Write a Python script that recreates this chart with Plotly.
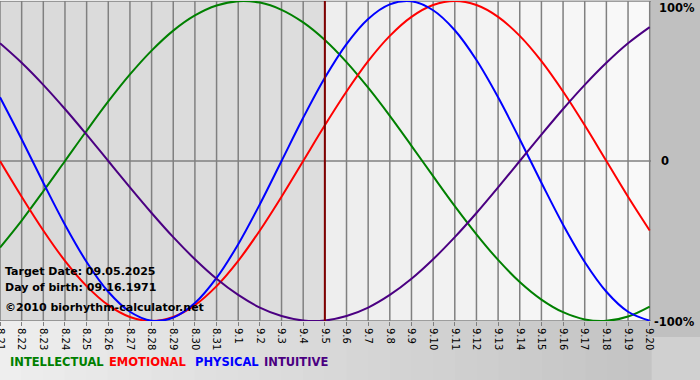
import plotly.graph_objects as go

dates = ["8.21", "8.22", "8.23", "8.24", "8.25", "8.26", "8.27", "8.28", "8.29", "8.30", "8.31",
         "9.1", "9.2", "9.3", "9.4", "9.5", "9.6", "9.7", "9.8", "9.9", "9.10", "9.11",
         "9.12", "9.13", "9.14", "9.15", "9.16", "9.17", "9.18", "9.19", "9.20"]

intellectual = [-0.541, -0.372, -0.189, 0.0, 0.189, 0.372, 0.541, 0.690, 0.815, 0.910, 0.972,
                0.999, 0.990, 0.945, 0.866, 0.756, 0.618, 0.458, 0.282, 0.095, -0.095,
                -0.282, -0.458, -0.618, -0.756, -0.866, -0.945, -0.990, -0.999, -0.972, -0.910]
emotional = [0.0, -0.223, -0.434, -0.624, -0.782, -0.901, -0.975, -1.0, -0.975, -0.901, -0.782,
             -0.624, -0.434, -0.223, 0.0, 0.223, 0.434, 0.624, 0.782, 0.901, 0.975,
             1.0, 0.975, 0.901, 0.782, 0.624, 0.434, 0.223, 0.0, -0.223, -0.434]
physical = [0.398, 0.136, -0.136, -0.398, -0.631, -0.817, -0.942, -0.998, -0.979, -0.888, -0.731,
            -0.520, -0.270, 0.0, 0.270, 0.520, 0.731, 0.888, 0.979, 0.998, 0.942,
            0.817, 0.631, 0.398, 0.136, -0.136, -0.398, -0.631, -0.817, -0.942, -0.998]
intuitive = [0.736, 0.614, 0.476, 0.325, 0.165, 0.0, -0.165, -0.325, -0.476, -0.614, -0.736,
             -0.837, -0.916, -0.969, -0.997, -0.997, -0.969, -0.916, -0.837, -0.736, -0.614,
             -0.476, -0.325, -0.165, 0.0, 0.165, 0.325, 0.476, 0.614, 0.736, 0.837]

target_index = 15
target_text = "Target Date: 09.05.2025"
birth_text = "Day of birth: 09.16.1971"
copyright_text = "©2010 biorhythm-calculator.net"
y_labels = ["100%", "0", "-100%"]

series = [
    ("INTELLECTUAL", intellectual, "#008000"),
    ("EMOTIONAL", emotional, "#ff0000"),
    ("PHYSICAL", physical, "#0000ff"),
    ("INTUITIVE", intuitive, "#4b0082"),
]

x = list(range(len(dates)))
fig = go.Figure()
for name, vals, col in series:
    fig.add_trace(go.Scatter(x=x, y=vals, mode="lines", name=name,
                             line=dict(color=col, width=2, shape="spline", smoothing=1.0),
                             hoverinfo="skip"))

shapes = []
# bottom / right background gradient
n = 30
for i in range(n):
    g = int(238 - (238 - 196) * i / (n - 1))
    shapes.append(dict(type="rect", xref="paper", yref="paper", x0=i / n - 0.001, x1=(i + 1) / n + 0.001,
                       y0=-0.3, y1=1.05, fillcolor=f"rgb({g},{g},{g})", line_width=0, layer="below"))
shapes.append(dict(type="rect", xref="paper", yref="paper", x0=1.0, x1=1.1,
                   y0=-0.05, y1=1.05, fillcolor="rgb(192,192,192)", line_width=0, layer="below"))
# plot area backgrounds per day cell
last = len(dates) - 1
for i in range(last):
    if i < target_index:
        g = 218 + int(4 * i / target_index)
    else:
        g = 238 + int(12 * (i - target_index) / (last - target_index))
    shapes.append(dict(type="rect", xref="x", yref="y", x0=i, x1=i + 1, y0=-1, y1=1,
                       fillcolor=f"rgb({g},{g},{g})", line_width=0, layer="below"))
# vertical grid
for i in range(len(dates)):
    shapes.append(dict(type="line", xref="x", yref="y", x0=i, x1=i, y0=-1, y1=1,
                       line=dict(color="#808080", width=1.5), layer="below"))
# horizontal lines
for yv in (-1, 0, 1):
    shapes.append(dict(type="line", xref="x", yref="y", x0=0, x1=last + 0.06, y0=yv, y1=yv,
                       line=dict(color="#808080", width=1.5), layer="below"))
# target line
shapes.append(dict(type="line", xref="x", yref="y", x0=target_index, x1=target_index, y0=-1, y1=1,
                   line=dict(color="#800000", width=2), layer="above"))

ann = []
txt_font = dict(family="DejaVu Sans", size=11, color="#000000")
for t, yp in ((target_text, 271), (birth_text, 287), (copyright_text, 307)):
    ann.append(dict(text=f"<b>{t}</b>", xref="paper", yref="paper", x=3 / 651, y=1 - (yp - 1) / 320,
                    xanchor="left", yanchor="middle", showarrow=False, font=txt_font))
for lab, yp, xl in zip(y_labels, (8, 161, 322), (657, 659, 652)):
    ann.append(dict(text=f"<b>{lab}</b>", xref="paper", yref="paper", x=xl / 651, y=1 - (yp - 1) / 320,
                    xanchor="left", yanchor="middle", showarrow=False,
                    font=dict(family="DejaVu Sans", size=11.5, color="#000000")))
xpos = [8, 107, 193, 262]
for (name, vals, col), xp in zip(series, xpos):
    ann.append(dict(text=f"<b>{name}</b>", xref="paper", yref="paper", x=xp / 651, y=1 - (362 - 1) / 320,
                    xanchor="left", yanchor="middle", showarrow=False,
                    font=dict(family="DejaVu Sans", size=11.5, color=col)))

fig.update_layout(
    width=700, height=380,
    margin=dict(l=0, r=49, t=1, b=59, autoexpand=False),
    paper_bgcolor="#d0d0d0", plot_bgcolor="#dadada",
    showlegend=False,
    shapes=shapes, annotations=ann,
    xaxis=dict(range=[0, last + 0.06], tickmode="array", tickvals=x, ticktext=dates,
               tickangle=90, ticks="outside", ticklen=4, tickcolor="#808080",
               showgrid=False, zeroline=False, showline=False, automargin=False,
               ticklabeloverflow="allow",
               tickfont=dict(family="DejaVu Sans", size=10, color="#000000"), fixedrange=True),
    yaxis=dict(range=[-1, 1], showticklabels=False, showgrid=False, zeroline=False,
               showline=False, ticks="", fixedrange=True, automargin=False),
)

fig.write_html("out.html", config={"displayModeBar": False, "staticPlot": True},
               post_script="document.body.style.margin='0';document.body.style.padding='0';"
                           "document.body.style.overflow='hidden';")
